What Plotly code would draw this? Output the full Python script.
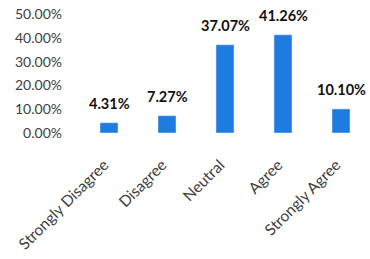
import plotly.graph_objects as go

categories = ["Strongly Disagree", "Disagree", "Neutral", "Agree", "Strongly Agree"]
values = [4.31, 7.27, 37.07, 41.26, 10.10]
y_ticks = [0, 10, 20, 30, 40, 50]
y_tick_labels = ["0.00%", "10.00%", "20.00%", "30.00%", "40.00%", "50.00%"]

fig = go.Figure()
fig.add_trace(go.Bar(x=categories, y=values, marker_color="#1E7BE0", width=0.31))

for c, v in zip(categories, values):
    fig.add_annotation(x=c, y=v, text=f"<b>{v:.2f}%</b>", showarrow=False,
                       yanchor="bottom", yshift=9,
                       font=dict(family="Lato", size=14.5, color="#111111"))

fig.update_layout(
    width=370, height=259,
    margin=dict(l=80, r=0, t=14, b=126),
    paper_bgcolor="white", plot_bgcolor="white",
    showlegend=False,
    font=dict(family="Lato", size=14, color="#404040"),
)
fig.update_xaxes(tickangle=-45, showline=False, showgrid=False, ticks="",
                 automargin=False, ticklabelstandoff=19, ticklabelshift=-5,
                 tickfont=dict(family="Lato", size=15.5, color="#404040"))
fig.update_yaxes(range=[0, 50], tickvals=y_ticks, ticktext=y_tick_labels,
                 showgrid=False, zeroline=False, showline=False,
                 automargin=False, ticklabelstandoff=17,
                 tickfont=dict(family="Lato", size=14, color="#404040"))

fig.write_html("out.html", config={"displayModeBar": False},
               post_script="document.body.style.margin='0';document.body.style.overflow='hidden';")
